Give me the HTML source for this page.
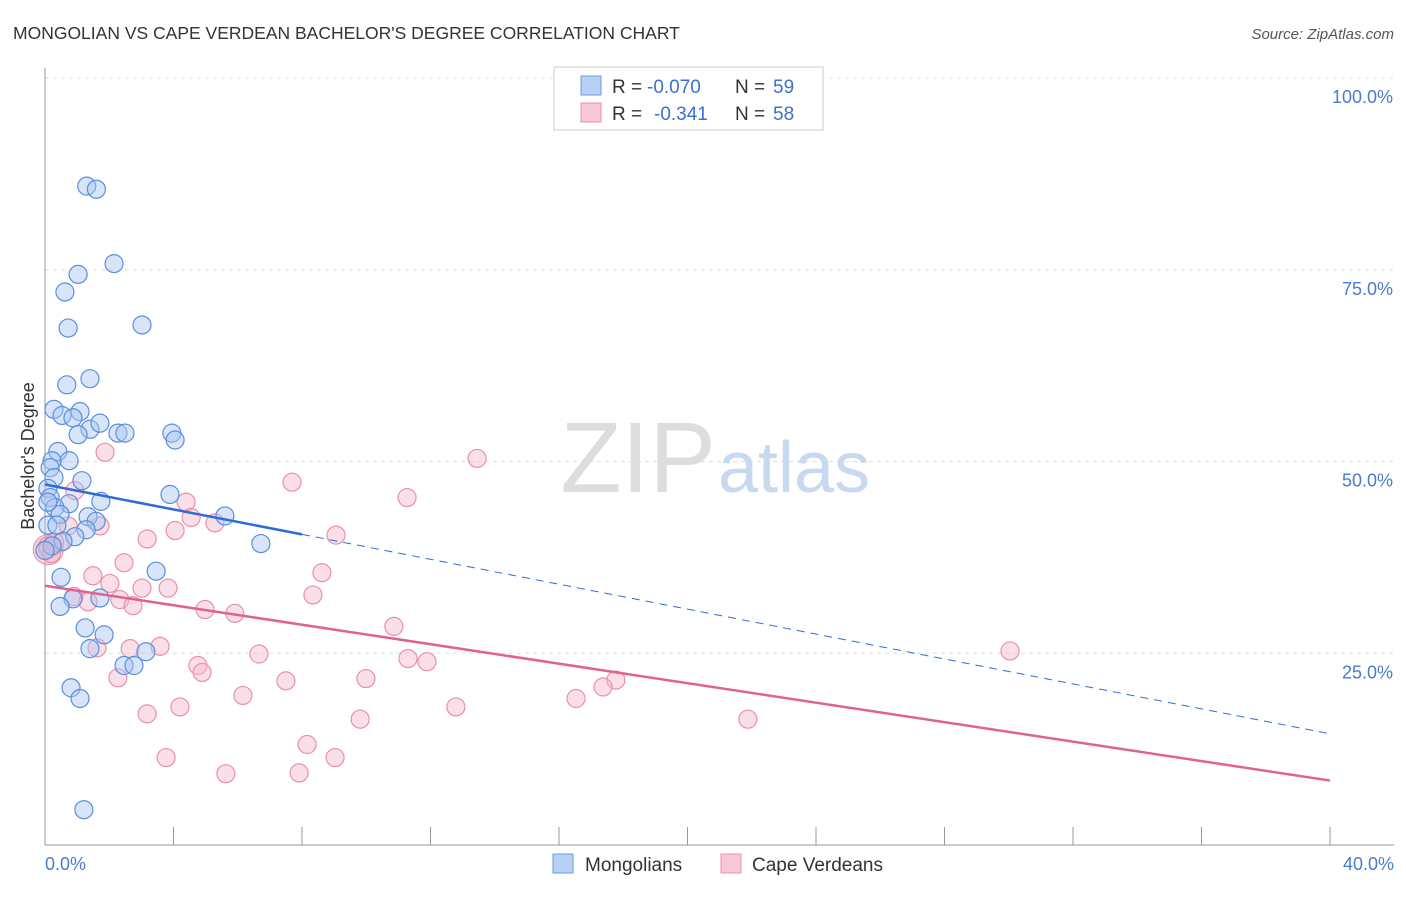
<!DOCTYPE html>
<html><head><meta charset="utf-8"><style>
body{margin:0;background:#fff;font-family:"Liberation Sans",sans-serif}
svg text{font-family:"Liberation Sans",sans-serif}
</style></head><body>
<svg width="1406" height="892">
<text x="13" y="39" font-size="17.5" fill="#333">MONGOLIAN VS CAPE VERDEAN BACHELOR'S DEGREE CORRELATION CHART</text>
<text x="1394" y="39" font-size="15" fill="#555" font-style="italic" text-anchor="end">Source: ZipAtlas.com</text>
<g id="grid"></g>
<text x="716" y="492" font-size="100" fill="#ddd" text-anchor="end" font-family="Liberation Serif">ZIP</text>
<text x="718" y="492" font-size="72" fill="#c8d8ee">atlas</text>
<line x1="45" y1="68" x2="45" y2="845" stroke="#999"/>
<line x1="45" y1="845" x2="1394" y2="845" stroke="#999"/>
<g id="pts"></g>
<g id="lines"></g>
<text x="34" y="456" font-size="18" fill="#333" text-anchor="middle" transform="rotate(-90 34 456)">Bachelor's Degree</text>
<text x="45" y="870" font-size="18" fill="#4a7bd0">0.0%</text>
<text x="1394" y="870" font-size="18" fill="#4a7bd0" text-anchor="end">40.0%</text>
<rect x="554" y="67" width="269" height="63" fill="#fff" stroke="#ccc"/>
<rect x="581" y="76" width="20" height="19" fill="#b8d0f4" stroke="#6a9ae0"/>
<rect x="581" y="103" width="20" height="19" fill="#f9c8d6" stroke="#e890aa"/>
<text x="612" y="93" font-size="19" fill="#333">R =</text>
<text x="647" y="93" font-size="19" fill="#3a70d0">-0.070</text>
<text x="735" y="93" font-size="19" fill="#333">N =</text>
<text x="773" y="93" font-size="19" fill="#3a70d0">59</text>
<text x="612" y="120" font-size="19" fill="#333">R =</text>
<text x="654" y="120" font-size="19" fill="#3a70d0">-0.341</text>
<text x="735" y="120" font-size="19" fill="#333">N =</text>
<text x="773" y="120" font-size="19" fill="#3a70d0">58</text>
<rect x="553" y="854" width="20" height="19" fill="#b8d0f4" stroke="#6a9ae0"/>
<text x="585" y="871" font-size="19" fill="#333">Mongolians</text>
<rect x="721" y="854" width="20" height="19" fill="#f9c8d6" stroke="#e890aa"/>
<text x="752" y="871" font-size="19" fill="#333">Cape Verdeans</text>
</svg>
<script>
const yTicks=[25,50,75,100];
const yTickLabels=["25.0%","50.0%","75.0%","100.0%"];
const xTicks=[4,8,12,16,20,24,28,32,36,40];
const blueX=[1.3,1.6,2.15,1.03,0.62,3.02,0.72,1.4,0.68,0.28,0.53,1.09,0.87,1.4,1.03,2.27,3.95,4.05,0.4,0.22,0.75,0.16,0.28,1.15,0.09,0.16,3.89,1.74,0.75,0.31,0.47,1.34,1.59,5.6,1.28,0.93,0.56,6.72,3.46,0.5,1.71,0.87,0.47,1.25,1.84,1.4,3.14,2.46,2.77,0.81,1.09,1.21,0.09,0.09,0.22,0.0,0.37,1.71,2.49];
const blueY=[85.9,85.5,75.8,74.4,72.1,67.8,67.4,60.8,60.0,56.8,56.0,56.5,55.7,54.2,53.5,53.7,53.7,52.8,51.3,50.1,50.1,49.2,47.9,47.5,46.5,45.3,45.7,44.8,44.5,44.0,43.1,42.8,42.2,42.9,41.1,40.2,39.6,39.3,35.7,34.9,32.2,32.1,31.1,28.3,27.4,25.6,25.2,23.4,23.4,20.5,19.1,4.6,44.7,41.7,39.0,38.4,41.7,55.0,53.7];
const pinkX=[1.87,13.45,7.69,0.93,11.27,4.39,4.55,5.29,4.05,0.72,1.71,9.06,3.18,0.47,0.09,2.46,8.62,1.49,2.02,3.02,3.83,8.34,0.9,1.34,2.33,2.74,4.98,5.91,10.86,3.58,1.62,2.65,6.66,11.3,11.89,30.04,4.76,4.89,2.27,7.5,9.99,17.77,17.37,16.53,6.16,4.2,12.79,3.18,21.88,9.81,8.16,3.77,9.03,5.63,7.91,0.09,0.2,0.3];
const pinkY=[51.2,50.4,47.3,46.2,45.3,44.7,42.7,42.0,41.0,41.6,41.6,40.4,39.9,39.4,39.0,36.8,35.5,35.1,34.1,33.5,33.5,32.6,32.4,31.7,32.0,31.2,30.7,30.2,28.5,25.9,25.7,25.6,24.9,24.3,23.9,25.3,23.4,22.5,21.8,21.4,21.7,21.5,20.6,19.1,19.5,18.0,18.0,17.1,16.4,16.4,13.1,11.4,11.4,9.3,9.4,38.6,38.0,39.5];
const X=v=>45+v*32.125, Y=v=>845-v*7.67;
const NS="http://www.w3.org/2000/svg";
const grid=document.getElementById('grid');
yTicks.forEach((t,i)=>{
 const l=document.createElementNS(NS,'line');
 l.setAttribute('x1',45);l.setAttribute('x2',1394);l.setAttribute('y1',Y(t));l.setAttribute('y2',Y(t));
 l.setAttribute('stroke','#ddd');l.setAttribute('stroke-dasharray','4,4');
 
 
 grid.appendChild(l);
 const tx=document.createElementNS(NS,'text');
 tx.setAttribute('x',1393);tx.setAttribute('y',Y(t)+25);tx.setAttribute('text-anchor','end');
 tx.setAttribute('font-size','18');tx.setAttribute('fill','#4a7bd0');tx.textContent=yTickLabels[i];
 
 
 grid.appendChild(tx);
});
xTicks.forEach(t=>{
 const l=document.createElementNS(NS,'line');
 l.setAttribute('x1',X(t));l.setAttribute('x2',X(t));l.setAttribute('y1',827);l.setAttribute('y2',845);
 l.setAttribute('stroke','#999');
 
 
 grid.appendChild(l);
});
const pts=document.getElementById('pts');
function dots(xs,ys,fill,stroke,name){
 xs.forEach((x,i)=>{
  const c=document.createElementNS(NS,'circle');
  c.setAttribute('cx',X(x));c.setAttribute('cy',Y(ys[i]));c.setAttribute('r',9);
  c.setAttribute('fill',fill);c.setAttribute('fill-opacity','0.45');c.setAttribute('stroke',stroke);c.setAttribute('stroke-width','1.2');
  
  
  pts.appendChild(c);
 });
}
const big=document.createElementNS(NS,'circle');
big.setAttribute('cx',X(0.1));big.setAttribute('cy',Y(38.5));big.setAttribute('r',15);
big.setAttribute('fill','#e8a8bd');big.setAttribute('fill-opacity','0.5');big.setAttribute('stroke','#e890aa');


pts.appendChild(big);
dots(pinkX,pinkY,'#f7b8cb','#e890aa','cape-verdean-point');
dots(blueX,blueY,'#a9c6f0','#5a8ede','mongolian-point');
const lines=document.getElementById('lines');
function ln(x1,y1,x2,y2,color,w,dash,name){
 const l=document.createElementNS(NS,'line');
 l.setAttribute('x1',X(x1));l.setAttribute('y1',Y(y1));l.setAttribute('x2',X(x2));l.setAttribute('y2',Y(y2));
 l.setAttribute('stroke',color);l.setAttribute('stroke-width',w);if(dash)l.setAttribute('stroke-dasharray',dash);
 
 
 lines.appendChild(l);
}
ln(0,47.0,8,40.5,'#2f6bd6',2.5,null,'mongolian-trend-line');
ln(8,40.5,40,14.5,'#2f6bd6',1,'8,6','mongolian-trend-extension');
ln(0,33.8,40,8.4,'#e0628e',2.5,null,'cape-verdean-trend-line');
</script>
</body></html>
